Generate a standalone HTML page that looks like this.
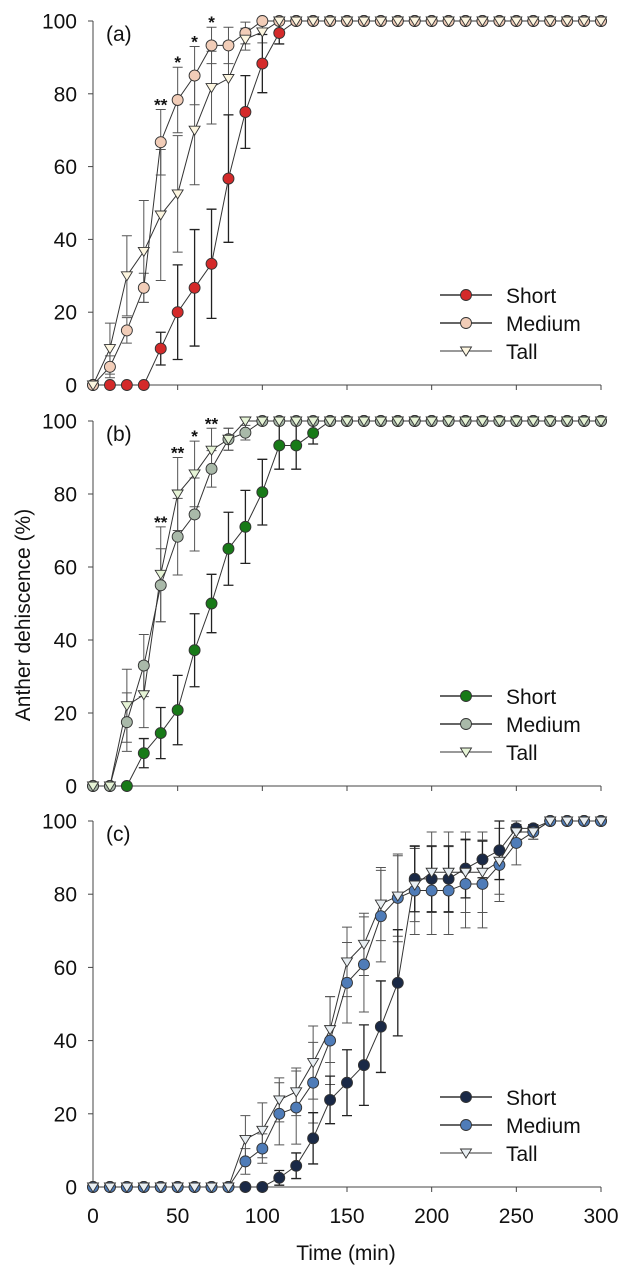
<!DOCTYPE html>
<html><head><meta charset="utf-8"><style>
html,body{margin:0;padding:0;background:#fff;}
svg{display:block;font-family:"Liberation Sans",Arial,sans-serif;}
</style></head><body>
<svg id="chart" width="631" height="1270" viewBox="0 0 631 1270" xmlns="http://www.w3.org/2000/svg"></svg>
<script>
const times=[];for(let t=0;t<=300;t+=10)times.push(t);
const yTicks=[0,20,40,60,80,100];
const xTicks=[0,50,100,150,200,250,300];
const seriesNames=["Short","Medium","Tall"];
function pad(a){while(a.length<31)a.push(100);return a;}
function padE(a){while(a.length<31)a.push(0);return a;}
// Panel a
const aShort=pad([0,0,0,0,10,20,26.7,33.3,56.7,75,88.3,96.7]);
const aShortErr=padE([0,0,0,0,4.5,13,16,15,17.5,10,8,3]);
const aMed=pad([0,5,15,26.7,66.7,78.3,85,93.3,93.3,96.7]);
const aMedErr=padE([0,3,3.5,4,9,9,8,5,5,3]);
const aTall=pad([0,10,30,36.7,46.7,52.5,70,81.7,84.2,95,97]);
const aTallErr=padE([0,7,11,14,18,16,15,10,10,3,3]);
const aStars=[[40,"**"],[50,"*"],[60,"*"],[70,"*"]];
// Panel b
const bShort=pad([0,0,0,9,14.5,20.8,37.2,50,65,71,80.5,93.3,93.3,96.7]);
const bShortErr=padE([0,0,0,4,7,9.5,10,8,10,10,9,6.5,6.5,3]);
const bMed=pad([0,0,17.5,33,55,68.3,74.4,86.9,95,96.8]);
const bMedErr=padE([0,0,8,8.5,10,10.5,10,5,3,2]);
const bTall=pad([0,0,22,25,58,80,85.5,92,95]);
const bTallErr=padE([0,0,10,9,13,10,9,6,3]);
const bStars=[[40,"**"],[50,"**"],[60,"*"],[70,"**"]];
// Panel c
const cShort=pad([0,0,0,0,0,0,0,0,0,0,0,2.5,5.8,13.3,23.8,28.5,33.3,43.8,55.8,84.2,84.2,84.2,87,89.5,92,98,98]);
const cShortErr=padE([0,0,0,0,0,0,0,0,0,0,0,2,3.5,7,6.5,9,11,12.5,14.5,9,9,9,8,5,8,1,1]);
const cMed=pad([0,0,0,0,0,0,0,0,0,7,10.5,20,21.7,28.5,40,55.8,60.8,74,79,81,81,81,82.8,82.8,88,94,97]);
const cMedErr=padE([0,0,0,0,0,0,0,0,0,3.5,4,8.5,10,11,12,11,13,12.5,12,12,12,12,12,12,10,6,2]);
const cTall=pad([0,0,0,0,0,0,0,0,0,13,15.5,23.8,26,34,43,61.5,66.3,77.3,79.5,82.5,86,86,86,86,89,97,97]);
const cTallErr=padE([0,0,0,0,0,0,0,0,0,6.5,7.5,6,6.5,10,9,9.5,8.5,10,11,10,11,11,11,11,9,2,2]);

const svg=document.getElementById('chart');
const NS="http://www.w3.org/2000/svg";
function mk(tag,attrs,parent){const e=document.createElementNS(NS,tag);for(const k in attrs)e.setAttribute(k,attrs[k]);(parent||svg).appendChild(e);return e;}
const X0=93,X1=601;
function xs(t){return X0+(X1-X0)*t/300;}

const panels=[
 {id:"a",top:21,bot:385,label:"(a)",data:[aShort,aMed,aTall],err:[aShortErr,aMedErr,aTallErr],fill:["#d42a2a","#f2cdb8","#fdf6e0"],stars:aStars,xlabels:false},
 {id:"b",top:421,bot:786,label:"(b)",data:[bShort,bMed,bTall],err:[bShortErr,bMedErr,bTallErr],fill:["#187a18","#a9b9a9","#e6f4d6"],stars:bStars,xlabels:false},
 {id:"c",top:821,bot:1187,label:"(c)",data:[cShort,cMed,cTall],err:[cShortErr,cMedErr,cTallErr],fill:["#1a2946","#4f7cb8","#e8eef2"],stars:[],xlabels:true}
];

function marker(g,kind,x,y,fill){
  if(kind===2){mk('path',{d:`M${x-5.5},${y-4} L${x+5.5},${y-4} L${x},${y+5} Z`,fill:fill,stroke:"#333","stroke-width":0.9},g);}
  else mk('circle',{cx:x,cy:y,r:5.5,fill:fill,stroke:"#333","stroke-width":0.9},g);
}

panels.forEach(p=>{
  const g=mk('g',{});
  
  
  const ys=v=>p.bot-(p.bot-p.top)*v/100;
  const ax=mk('path',{d:`M${X0},${p.top} V${p.bot} H${X1}`,fill:"none",stroke:"#444","stroke-width":1},g);
  
  
  yTicks.forEach(v=>{
    mk('line',{x1:X0-5,x2:X0,y1:ys(v),y2:ys(v),stroke:"#444"},g);
    const t=mk('text',{x:X0-16,y:ys(v)+7.5,"text-anchor":"end","font-size":21,fill:"#111"},g);
    t.textContent=v;
    
    
  });
  xTicks.forEach(v=>{
    mk('line',{x1:xs(v),x2:xs(v),y1:p.bot,y2:p.bot+5,stroke:"#444"},g);
    if(p.xlabels){
      const t=mk('text',{x:xs(v),y:p.bot+36,"text-anchor":"middle","font-size":21,fill:"#111"},g);
      t.textContent=v;
      
      
    }
  });
  const pl=mk('text',{x:106,y:p.top+20,"font-size":21,fill:"#111"},g);
  pl.textContent=p.label;
  
  
  [2,1,0].forEach(s=>{
    const d=p.data[s],e=p.err[s];
    times.forEach((t,i)=>{
      if(!e[i])return;
      const x=xs(t);
      const eb=mk('path',{d:`M${x},${ys(d[i]+e[i])} V${ys(d[i]-e[i])} M${x-5},${ys(d[i]+e[i])} h10 M${x-5},${ys(d[i]-e[i])} h10`,stroke:s===0?"#222":"#555","stroke-width":s===0?1.3:1,fill:"none"},g);
      
      
    });
  });
  [2,1,0].forEach(s=>{
    const d=p.data[s];
    const ln=mk('polyline',{points:times.map((t,i)=>xs(t)+","+ys(d[i])).join(" "),fill:"none",stroke:"#333","stroke-width":1},g);
    
    
  });
  [0,1,2].forEach(s=>{
    const d=p.data[s];
    times.forEach((t,i)=>marker(g,s,xs(t),ys(d[i]),p.fill[s]));
  });
  p.stars.forEach(([t,str])=>{
    const i=times.indexOf(t);
    const top=Math.max(...[0,1,2].map(s=>p.data[s][i]+p.err[s][i]));
    const st=mk('text',{x:xs(t),y:ys(top)+1,"text-anchor":"middle","font-size":17,"font-weight":"bold",fill:"#111"},g);
    st.textContent=str;
    
    
  });
  const lg=mk('g',{},g);
  
  
  const ly0=p.bot-90;
  seriesNames.forEach((n,s)=>{
    const y=ly0+s*28;
    mk('line',{x1:440,x2:492,y1:y,y2:y,stroke:"#333","stroke-width":s===2?1:1.4},lg);
    marker(lg,s,466,y,p.fill[s]);
    const t=mk('text',{x:506,y:y+8,"font-size":21,fill:"#111"},lg);
    t.textContent=n;
    
    
  });
});
const yt=mk('text',{x:0,y:0,transform:"translate(30,615) rotate(-90)","text-anchor":"middle","font-size":21,fill:"#111"});
yt.textContent="Anther dehiscence (%)";


const xt=mk('text',{x:346,y:1260,"text-anchor":"middle","font-size":21,fill:"#111"});
xt.textContent="Time (min)";


</script>
</body></html>
